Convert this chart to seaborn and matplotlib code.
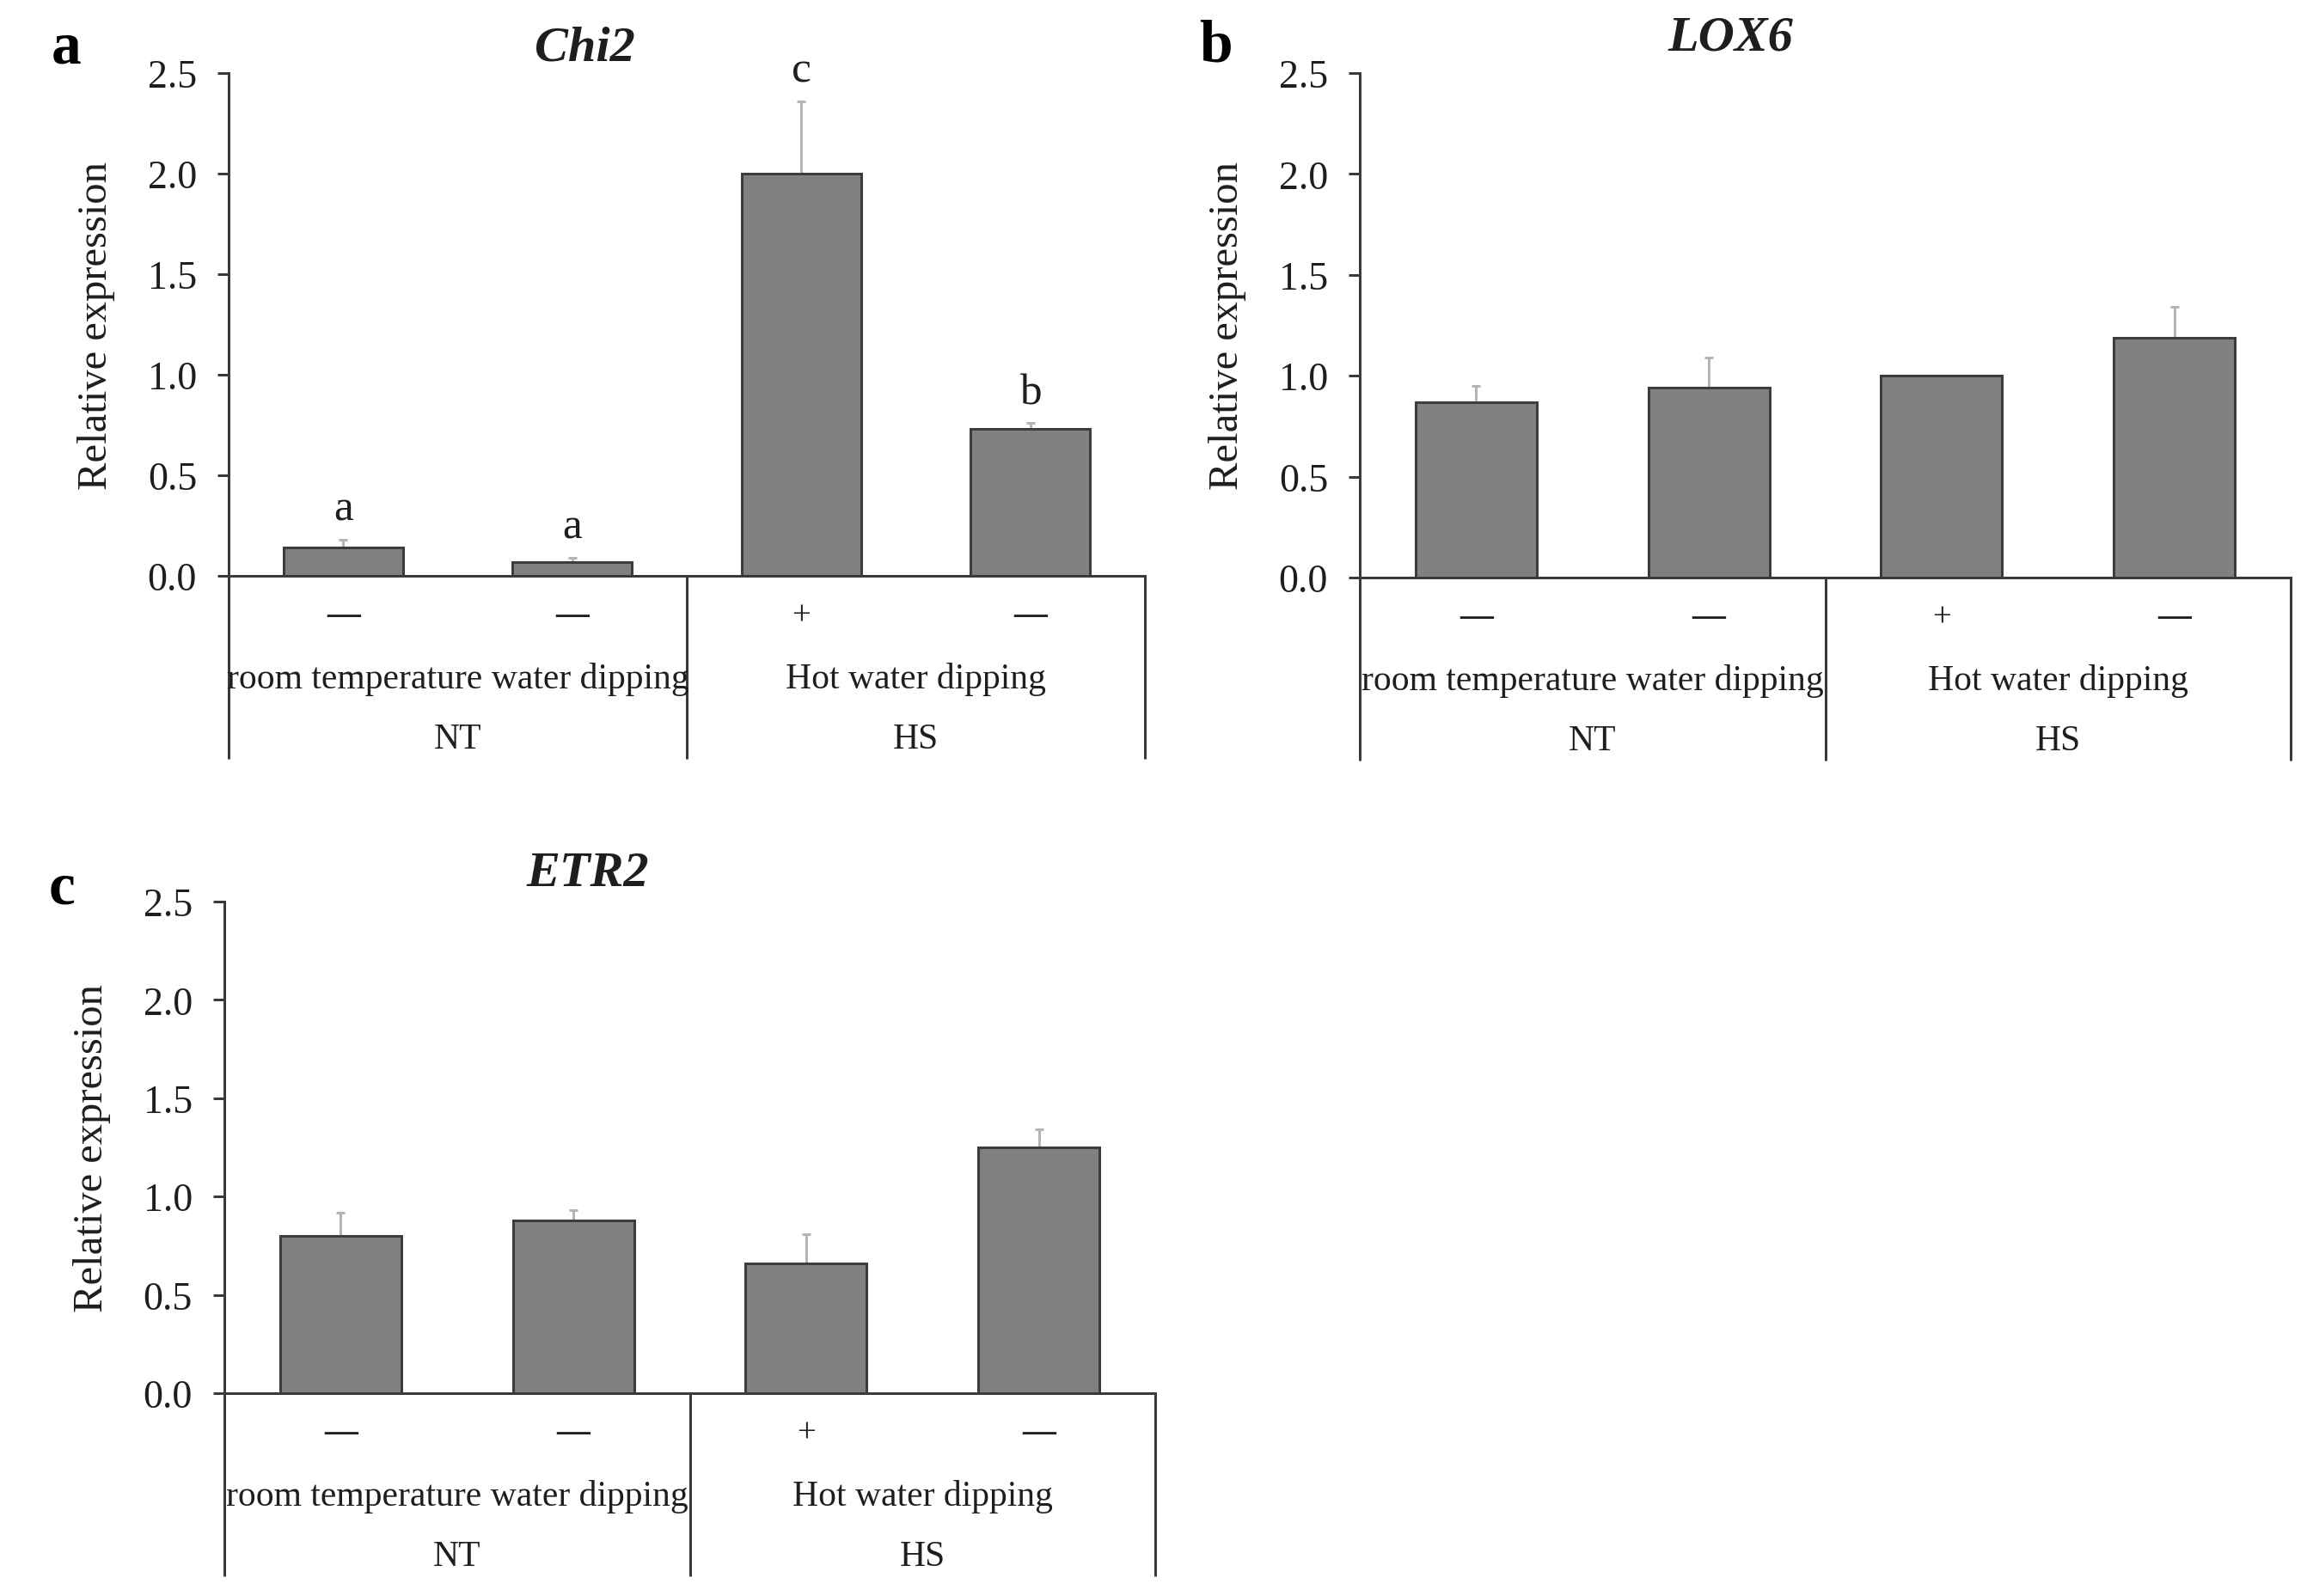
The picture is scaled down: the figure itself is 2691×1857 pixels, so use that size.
"""
Relative expression of Chi2, LOX6 and ETR2 under NT / HS treatments
"""

import numpy as np
import pandas as pd
import matplotlib
matplotlib.use("Agg")
import matplotlib.pyplot as plt
from matplotlib.transforms import blended_transform_factory
import seaborn as sns

# ---- data -------------------------------------------------------------
samples = ["s1", "s2", "s3", "s4"]
dip_marks = ["—", "—", "+", "—"]
group_labels = ["room temperature water dipping", "Hot water dipping"]
condition_labels = ["NT", "HS"]
y_ticks = [0.0, 0.5, 1.0, 1.5, 2.0, 2.5]

chi2_mean = [0.14, 0.07, 2.00, 0.73]
chi2_err = [0.04, 0.02, 0.36, 0.03]
chi2_sig = ["a", "a", "c", "b"]

lox6_mean = [0.87, 0.94, 1.00, 1.19]
lox6_err = [0.08, 0.15, 0.0, 0.15]

etr2_mean = [0.80, 0.88, 0.66, 1.25]
etr2_err = [0.12, 0.05, 0.15, 0.09]

# ---- style ------------------------------------------------------------
BAR_COLOR = "#808080"
EDGE_COLOR = "#3c3c3c"
LINE_COLOR = "#3a3a3a"
ERR_COLOR = "#b4b4b4"
TEXT_COLOR = "#1e1e1e"
DPI = 100
FIG_W, FIG_H = 2691, 1858

sns.set_style("ticks")
plt.rcParams["font.family"] = ["Liberation Serif", "DejaVu Serif"]
plt.rcParams["text.color"] = TEXT_COLOR


def px(v):
    """pixels -> points"""
    return v * 72 / DPI


def draw_panel(fig, rect_px, means, errs, title, title_pos, letter, letter_px, sig=None):
    left, right, top, base = rect_px
    ax = fig.add_axes([left / FIG_W, 1 - base / FIG_H,
                       (right - left) / FIG_W, (base - top) / FIG_H])
    h_px = base - top

    df = pd.DataFrame({"sample": samples, "value": means})
    sns.barplot(data=df, x="sample", y="value", color=BAR_COLOR, saturation=1,
                width=0.52, edgecolor=EDGE_COLOR, linewidth=px(3),
                errorbar=None, ax=ax, zorder=2)

    x = np.arange(len(samples))
    err = np.array(errs)
    mask = err > 0
    ax.errorbar(x[mask], np.array(means)[mask], yerr=[np.zeros(mask.sum()), err[mask]],
                fmt="none", ecolor=ERR_COLOR, elinewidth=px(3), capsize=px(5),
                capthick=px(3), zorder=1)

    ax.set_xlim(-0.5, 3.5)
    ax.set_ylim(0, 2.5)
    ax.set_yticks(y_ticks)
    ax.set_yticklabels([f"{t:.1f}" for t in y_ticks])
    ax.set_xlabel("")
    ax.set_ylabel("Relative expression", fontsize=35, color=TEXT_COLOR, labelpad=px(38))
    ax.tick_params(axis="x", length=0, labelbottom=False)
    ax.tick_params(axis="y", direction="out", length=px(13), width=px(3),
                   color=LINE_COLOR, labelsize=33, labelcolor=TEXT_COLOR, pad=px(24))
    ax.spines[["top", "right"]].set_visible(False)
    for s in ["left", "bottom"]:
        ax.spines[s].set_color(LINE_COLOR)
        ax.spines[s].set_linewidth(px(3))

    # rows of labels under the axis
    trans = blended_transform_factory(ax.transData, ax.transAxes)
    for xi, mark in zip(x, dip_marks):
        ax.text(xi, -46 / h_px, mark, transform=trans, ha="center", va="center",
                fontsize=28, fontweight="bold" if mark == "—" else "normal",
                color=TEXT_COLOR)
    for gi, (g, c) in enumerate(zip(group_labels, condition_labels)):
        xc = 0.5 + 2 * gi
        ax.text(xc, -120 / h_px, g, transform=trans, ha="center", va="center",
                fontsize=30, color=TEXT_COLOR)
        ax.text(xc, -190 / h_px, c, transform=trans, ha="center", va="center",
                fontsize=30, color=TEXT_COLOR)
    for xv in [-0.5, 1.5, 3.5]:
        ax.plot([xv, xv], [0, -213 / h_px], transform=trans, color=LINE_COLOR,
                lw=px(3), clip_on=False, solid_capstyle="butt")

    if sig is not None:
        for xi, m, e, s in zip(x, means, errs, sig):
            ax.annotate(s, (xi, m + e), xytext=(0, px(12)), textcoords="offset points",
                        ha="center", va="bottom", fontsize=37, color=TEXT_COLOR)

    ax.text(title_pos[0], title_pos[1], title, transform=ax.transAxes, ha="center",
            va="center", fontsize=42, fontweight="bold", fontstyle="italic",
            color=TEXT_COLOR)
    fig.text(letter_px[0] / FIG_W, 1 - letter_px[1] / FIG_H, letter, ha="center",
             va="center", fontsize=50, fontweight="bold", color="#000000")
    return ax


fig = plt.figure(figsize=(FIG_W / DPI, FIG_H / DPI), dpi=DPI)
fig.patch.set_facecolor("#ffffff")

draw_panel(fig, (266, 1332, 86, 671), chi2_mean, chi2_err, "Chi2", (0.389, 1.05),
           "a", (77, 57), sig=chi2_sig)
draw_panel(fig, (1582, 2665, 86, 673), lox6_mean, lox6_err, "LOX6", (0.398, 1.07),
           "b", (1414, 55))
draw_panel(fig, (261, 1344, 1050, 1622), etr2_mean, etr2_err, "ETR2", (0.39, 1.057),
           "c", (72, 1035))

fig.savefig("out.png", dpi=DPI, facecolor="#ffffff")
